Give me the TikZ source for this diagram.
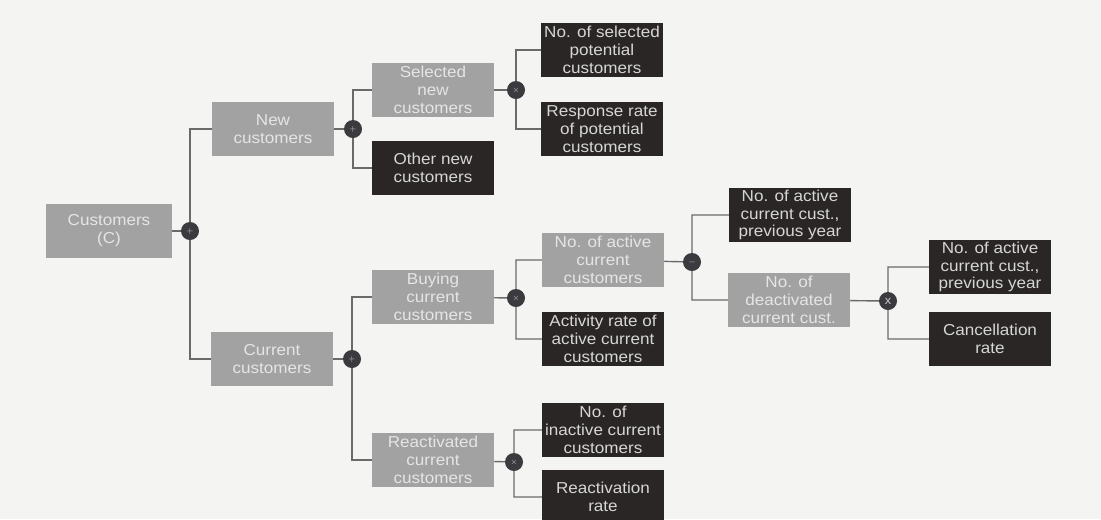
\documentclass[tikz,border=0pt]{standalone}
\usepackage{fontspec}
\setmainfont{Liberation Sans}[FakeStretch=1.08]
\usepackage{xcolor}
\definecolor{boxgray}{HTML}{A2A2A2}
\definecolor{boxdark}{HTML}{2B2626}
\definecolor{linegray}{HTML}{6A6A6A}
\definecolor{opdark}{HTML}{3A3A3F}
\definecolor{paper}{HTML}{F4F4F2}

\begin{document}
\begin{tikzpicture}[x=0.03cm, y=-0.03cm,
  graybox/.style={fill=boxgray, text=white!90!black, minimum width=3.66cm, minimum height=1.63cm, align=center, inner sep=0.5pt, font=\fontsize{13.5}{15.2}\selectfont},
  darkbox/.style={graybox, fill=boxdark, text=white!84!black},
  opnode/.style={circle, fill=opdark, minimum size=0.54cm, inner sep=0pt, text=white!80!black, font=\scriptsize},
  link/.style={draw=linegray, line width=1.2pt}]
  \fill[paper] (0,0) rectangle (1101,519);
  \useasboundingbox (0,0) rectangle (1101,519);
  \node[graybox, minimum width=3.75cm] (cust) at (109,231) {Customers\\(C)};
  \node[opnode] (sumA) at (190,231) {$+$};
  \node[graybox] (newc) at (273,129) {New\\customers};
  \node[graybox] (curc) at (272,359) {Current\\customers};
  \node[opnode] (sumB) at (353,129) {$+$};
  \node[opnode] (sumC) at (352,359) {$+$};
  \node[graybox] (selnew) at (433,90) {Selected\\new\\customers};
  \node[darkbox] (othnew) at (433,168) {Other new\\customers};
  \node[graybox] (buycur) at (433,297) {Buying\\current\\customers};
  \node[graybox] (reacur) at (433,460) {Reactivated\\current\\customers};
  \node[opnode] (mulA) at (516,90) {$\times$};
  \node[opnode] (mulB) at (516,298) {$\times$};
  \node[opnode] (mulC) at (514,462) {$\times$};
  \node[darkbox] (nosel) at (602,50) {No. of selected\\potential\\customers};
  \node[darkbox] (resp) at (602,129) {Response rate\\of potential\\customers};
  \node[graybox] (nact) at (603,260) {No. of active\\current\\customers};
  \node[darkbox] (actrate) at (603,339) {Activity rate of\\active current\\customers};
  \node[darkbox] (ninact) at (603,430) {No. of\\inactive current\\customers};
  \node[darkbox] (reactrate) at (603,497) {Reactivation\\rate};
  \node[opnode] (diffA) at (692,262) {$-$};
  \node[darkbox] (prevA) at (790,215) {No. of active\\current cust.,\\previous year};
  \node[graybox] (deact) at (789,300) {No. of\\deactivated\\current cust.};
  \node[opnode] (mulD) at (888,301) {\normalsize x};
  \node[darkbox] (prevB) at (990,267) {No. of active\\current cust.,\\previous year};
  \node[darkbox] (cancel) at (990,339) {Cancellation\\rate};
  \draw[link] (cust) -- (sumA) (sumA.north) |- (newc) (sumA.south) |- (curc);
  \draw[link] (newc) -- (sumB) (sumB.north) |- (selnew) (sumB.south) |- (othnew);
  \draw[link] (curc) -- (sumC) (sumC.north) |- (buycur) (sumC.south) |- (reacur);
  \draw[link] (selnew) -- (mulA) (mulA.north) |- (nosel) (mulA.south) |- (resp);
  \draw[link] (buycur) -- (mulB) (mulB.north) |- (nact) (mulB.south) |- (actrate);
  \draw[link] (reacur) -- (mulC) (mulC.north) |- (ninact) (mulC.south) |- (reactrate);
  \draw[link] (nact) -- (diffA) (diffA.north) |- (prevA) (diffA.south) |- (deact);
  \draw[link] (deact) -- (mulD) (mulD.north) |- (prevB) (mulD.south) |- (cancel);
\end{tikzpicture}
\end{document}
